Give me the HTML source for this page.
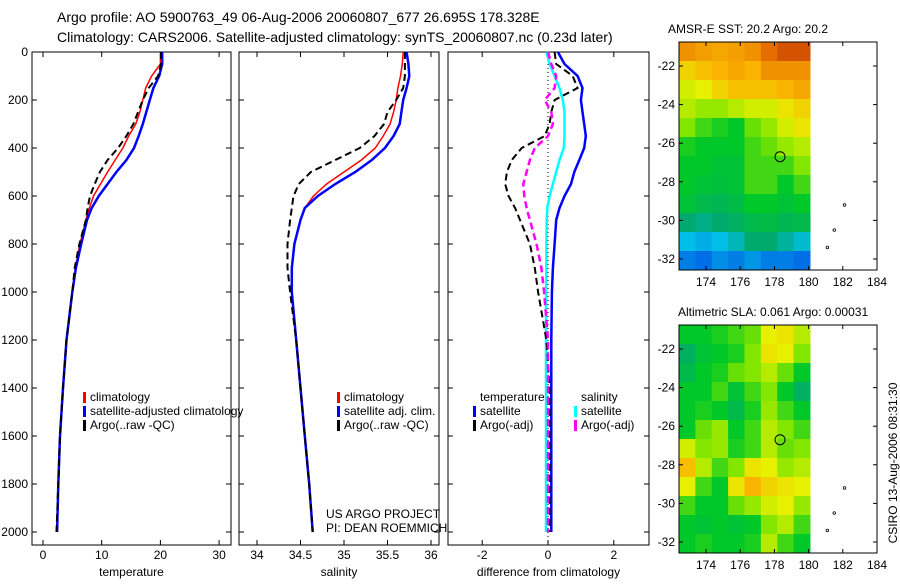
<!DOCTYPE html>
<html><head><meta charset="utf-8"><style>
body{margin:0;background:#fff;width:900px;height:580px;overflow:hidden}
svg text{font-family:"Liberation Sans",sans-serif;fill:#000}
</style></head><body>
<svg id="fig" width="900" height="580" xmlns="http://www.w3.org/2000/svg">
<text x="57" y="22" font-size="14">Argo profile: AO 5900763_49 06-Aug-2006 20060807_677 26.695S 178.328E</text>
<text x="57" y="42" font-size="14">Climatology: CARS2006. Satellite-adjusted climatology: synTS_20060807.nc (0.23d later)</text>
</svg>
<script>
const depths=[0,50,100,150,200,250,300,350,400,450,500,550,600,650,700,800,900,1000,1200,1400,1600,1800,2000];
const tempClim=[20,20,18.5,17.5,17,16.5,15.8,14.6,13.6,12.3,11,9.8,8.6,7.9,7.3,6.3,5.5,5,4,3.4,2.9,2.6,2.3];
const tempSat=[20.3,20.3,19.8,18.8,18.2,17.6,17.0,16.3,15.5,14.2,12.5,11,9.5,8.3,7.5,6.5,5.6,5,4,3.4,2.9,2.6,2.4];
const tempArgo=[20.1,20.1,19.6,18,17,16.2,15.4,14.2,12.8,11,9.7,8.8,8,7.6,7.3,6.2,5.4,5,4,3.4,2.9,2.6,2.3];
const salClim=[35.68,35.67,35.65,35.62,35.6,35.57,35.53,35.45,35.36,35.2,35.0,34.8,34.65,34.55,34.5,34.43,34.4,34.4,34.45,34.5,34.55,34.6,34.64];
const salSat=[35.72,35.74,35.75,35.72,35.68,35.66,35.64,35.57,35.47,35.32,35.13,34.9,34.7,34.55,34.5,34.43,34.4,34.4,34.45,34.5,34.55,34.6,34.64];
const salArgo=[35.7,35.7,35.7,35.68,35.6,35.5,35.46,35.35,35.18,34.9,34.62,34.48,34.42,34.4,34.38,34.35,34.35,34.38,34.45,34.5,34.55,34.6,34.64];
const dTSat=[0.3,0.5,0.9,1.05,1.0,1.05,1.1,1.15,1.1,0.95,0.8,0.7,0.5,0.35,0.25,0.2,0.15,0.12,0.1,0.1,0.1,0.1,0.1];
const dSSat=[-0.05,0.05,0.2,0.35,0.45,0.5,0.5,0.5,0.48,0.35,0.25,0.15,0.05,-0.02,-0.04,-0.05,-0.05,-0.06,-0.06,-0.06,-0.06,-0.06,-0.06];
const dTArgo=[0.2,0.25,0.75,0.9,0.2,0.1,0.05,-0.1,-0.8,-1.1,-1.25,-1.3,-1.2,-1.0,-0.85,-0.55,-0.4,-0.3,-0.05,0.05,0.05,0.05,0.05];
const dSArgo=[0,0.1,0.25,0.2,-0.1,0.1,0.15,0.0,-0.4,-0.55,-0.65,-0.75,-0.72,-0.65,-0.55,-0.35,-0.2,-0.12,0,0,0,0,0];
const depthTicks=[0,200,400,600,800,1000,1200,1400,1600,1800,2000];
const tempTicks=[0,10,20,30];
const salTicks=[34,34.5,35,35.5,36];
const diffTicks=[-2,0,2];
const sstGrid=[
[.85,.83,.82,.83,.85,.9,.93,.93],[.75,.78,.8,.82,.8,.85,.85,.85],[.68,.7,.75,.78,.78,.78,.8,.82],
[.65,.62,.62,.65,.68,.68,.72,.75],[.6,.55,.52,.5,.58,.62,.68,.72],[.52,.5,.5,.5,.55,.58,.62,.65],
[.5,.5,.48,.48,.55,.55,.55,.6],[.5,.48,.47,.48,.55,.55,.5,.55],[.48,.45,.44,.46,.5,.5,.48,.5],
[.4,.38,.4,.42,.45,.46,.44,.45],[.3,.28,.3,.34,.4,.4,.36,.32],[.22,.2,.24,.22,.25,.22,.22,.2]];
const slaGrid=[
[.5,.5,.52,.55,.58,.7,.72,.65],[.42,.48,.5,.52,.6,.72,.7,.6],[.45,.5,.52,.58,.6,.65,.58,.5],
[.5,.5,.55,.48,.55,.6,.5,.42],[.5,.52,.5,.45,.52,.62,.55,.5],[.5,.58,.62,.5,.55,.65,.6,.55],
[.68,.6,.62,.52,.55,.65,.58,.6],[.78,.65,.55,.6,.72,.7,.62,.65],[.7,.55,.5,.72,.8,.75,.72,.7],
[.55,.5,.5,.58,.62,.68,.7,.62],[.5,.48,.5,.48,.5,.6,.65,.55],[.5,.52,.5,.5,.52,.65,.55,.5]];
const lonTicks=[174,176,178,180,182,184];
const latTicks=[-22,-24,-26,-28,-30,-32];
const floatPos=[178.33,-26.7];
const islands=[[182.1,-29.2],[181.5,-30.5],[181.1,-31.4]];

const NS='http://www.w3.org/2000/svg';
const svg=document.getElementById('fig');
function mk(tag,attrs,parent){const e=document.createElementNS(NS,tag);for(const k in attrs)e.setAttribute(k,attrs[k]);(parent||svg).appendChild(e);return e;}
function txt(x,y,s,size,anchor,parent){const t=mk('text',{x:x,y:y,'font-size':size||12,'text-anchor':anchor||'start'},parent);t.textContent=s;return t;}
const yD=d=>52+d*0.24;
const TOP=52,BOT=545;
const panels=[
 {x0:32,x1:231,v0:0,px0:43,scale:5.87,ticks:tempTicks,label:'temperature',name:'temperature-panel'},
 {x0:239,x1:439,v0:34,px0:257,scale:87,ticks:salTicks,label:'salinity',name:'salinity-panel'},
 {x0:448,x1:649,v0:0,px0:548,scale:32.9,ticks:diffTicks,label:'difference from climatology',name:'difference-panel'}];
panels.forEach((p,i)=>{
 p.fx=v=>p.px0+(v-p.v0)*p.scale;
 const g=mk('g',{});
 
 
 const r=mk('rect',{x:p.x0,y:TOP,width:p.x1-p.x0,height:BOT-TOP,fill:'#fff',stroke:'#000','stroke-width':1},g);
 
 
 p.ticks.forEach(t=>{const x=p.fx(t);
  mk('line',{x1:x,x2:x,y1:TOP,y2:TOP+5,stroke:'#000'},g);
  mk('line',{x1:x,x2:x,y1:BOT,y2:BOT-5,stroke:'#000'},g);
  const tl=txt(x,559,String(t),12,'middle',g);
  
  });
 depthTicks.forEach(d=>{const y=yD(d);
  mk('line',{x1:p.x0,x2:p.x0+5,y1:y,y2:y,stroke:'#000'},g);
  mk('line',{x1:p.x1,x2:p.x1-5,y1:y,y2:y,stroke:'#000'},g);
  if(i===0){const tl=txt(28,y+4,String(d),12,'end',g);
   
   }});
 const xl=txt((p.x0+p.x1)/2,576,p.label,12,'middle',g);
 
 
});
function line(p,vals,color,w,dash,name){
 const pts=vals.map((v,k)=>p.fx(v).toFixed(1)+','+yD(depths[k]).toFixed(1)).join(' ');
 const a={points:pts,fill:'none',stroke:color,'stroke-width':w};
 if(dash)a['stroke-dasharray']=dash;
 const e=mk('polyline',a);
 
 
}
const [P1,P2,P3]=panels;
line(P1,tempClim,'#f00',1.5,null,'temp-climatology-line');
line(P1,tempSat,'#00f',2.5,null,'temp-satellite-line');
line(P1,tempArgo,'#000',2,'7,4','temp-argo-line');
line(P2,salClim,'#f00',1.5,null,'sal-climatology-line');
line(P2,salSat,'#00f',2.5,null,'sal-satellite-line');
line(P2,salArgo,'#000',2,'7,4','sal-argo-line');
const zl=mk('line',{x1:P3.fx(0),x2:P3.fx(0),y1:TOP,y2:BOT,stroke:'#000','stroke-dasharray':'1,3'});


line(P3,dTSat,'#00f',2.5,null,'diff-temp-satellite-line');
line(P3,dSSat,'#0ff',2.5,null,'diff-sal-satellite-line');
line(P3,dTArgo,'#000',2,'7,4','diff-temp-argo-line');
line(P3,dSArgo,'#f0f',2.5,'7,4','diff-sal-argo-line');
function leg(x,y,color,label){
 const g=mk('g',{});
 
 
 if(color)mk('rect',{x:x,y:y-9,width:3,height:11,fill:color},g);
 txt(x+7,y,label,12,'start',g);
}
leg(83,401,'#f00','climatology');leg(83,415,'#00f','satellite-adjusted climatology');leg(83,429,'#000','Argo(..raw -QC)');
leg(337,401,'#f00','climatology');leg(337,415,'#00f','satellite adj. clim.');leg(337,429,'#000','Argo(..raw -QC)');
leg(473,401,null,'temperature');leg(473,415,'#00f','satellite');leg(473,429,'#000','Argo(-adj)');
leg(574,401,null,'salinity');leg(574,415,'#0ff','satellite');leg(574,429,'#f0f','Argo(-adj)');
const c1=txt(326,518,'US ARGO PROJECT',12);
const c2=txt(326,532,'PI: DEAN ROEMMICH',12);

const stops=[[0,[0,40,180]],[.2,[0,110,230]],[.3,[0,190,230]],[.4,[0,170,110]],[.5,[0,200,40]],[.6,[130,230,0]],[.7,[230,240,0]],[.8,[250,180,0]],[.9,[230,110,0]],[1,[170,20,0]]];
function cmap(v){for(let i=1;i<stops.length;i++){if(v<=stops[i][0]){const a=stops[i-1],b=stops[i];const f=(v-a[0])/(b[0]-a[0]);return 'rgb('+a[1].map((c,j)=>Math.round(c+(b[1][j]-c)*f)).join(',')+')';}}return 'rgb(170,20,0)';}
function drawMap(top,grid,title,name){
 const g=mk('g',{});
 
 
 const L=679,R=877,B=top+228,imgR=810;
 const fx=lon=>706+(lon-174)*17.1;
 const fy=lat=>top+24+(-22-lat)*19.3;
 mk('rect',{x:L,y:top,width:R-L,height:B-top,fill:'#fff',stroke:'none'},g);
 const rows=grid.length,cols=grid[0].length,cw=(imgR-L)/cols,rh=(B-top)/rows;
 grid.forEach((row,r)=>row.forEach((v,c)=>{
  const cell=mk('rect',{x:L+c*cw,y:top+r*rh,width:cw+0.5,height:rh+0.5,fill:cmap(v)},g);
  
  }));
 mk('rect',{x:L,y:top,width:R-L,height:B-top,fill:'none',stroke:'#000'},g);
 lonTicks.forEach(l=>{const x=fx(l);mk('line',{x1:x,x2:x,y1:top,y2:top+4,stroke:'#000'},g);mk('line',{x1:x,x2:x,y1:B,y2:B-4,stroke:'#000'},g);
  const t=txt(x,B+16,String(l),12,'middle',g);});
 latTicks.forEach(l=>{const y=fy(l);mk('line',{x1:L,x2:L+4,y1:y,y2:y,stroke:'#000'},g);mk('line',{x1:R,x2:R-4,y1:y,y2:y,stroke:'#000'},g);
  const t=txt(675,y+4,String(l),12,'end',g);});
 islands.forEach(p=>{const d=mk('circle',{cx:fx(p[0]),cy:fy(p[1]),r:1.3,fill:'none',stroke:'#000','stroke-width':0.8},g);});
 const fm=mk('circle',{cx:fx(floatPos[0]),cy:fy(floatPos[1]),r:5,fill:'none',stroke:'#000','stroke-width':1},g);
 
 
 const tt=txt(top<100?748:678,top-9,title,12,top<100?'middle':'start',g);
 
 
}
drawMap(42,sstGrid,'AMSR-E SST: 20.2 Argo: 20.2','sst-map');
drawMap(325,slaGrid,'Altimetric SLA: 0.061 Argo: 0.00031','sla-map');
const st=txt(0,0,'CSIRO 13-Aug-2006 08:31:30',12,'middle');
st.setAttribute('transform','translate(897,463) rotate(-90)');


</script>
</body></html>
